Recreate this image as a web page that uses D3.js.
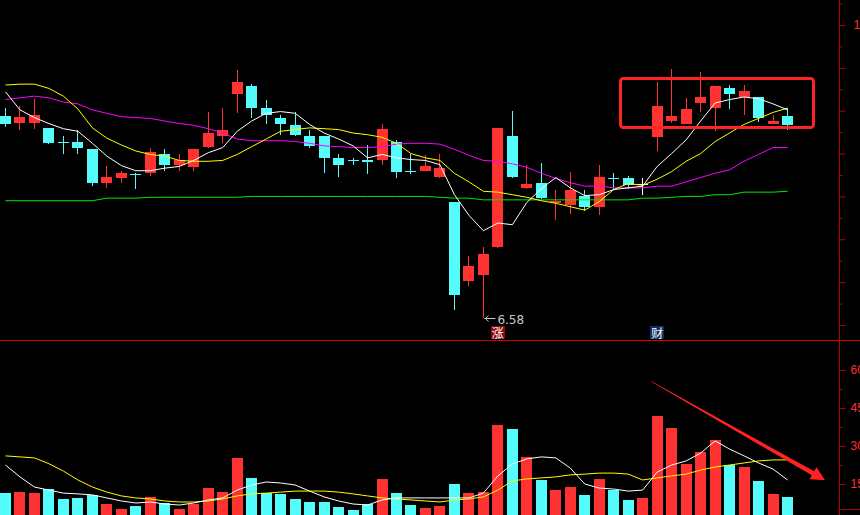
<!DOCTYPE html>
<html><head><meta charset="utf-8">
<script src="https://cdn.jsdelivr.net/npm/d3@7/dist/d3.min.js"></script>
<style>html,body{margin:0;padding:0;background:#000;overflow:hidden}</style>
</head><body>
<script>
// ---------- data ----------
const opens  = [8.94,8.86,8.86,8.80,8.64,8.64,8.55,8.16,8.21,8.26, 8.27,8.50,8.37,8.34,8.58,8.71,9.20,9.29,9.03,8.92,
                8.83,8.71,8.71,8.45,8.42,8.43,8.43,8.64,8.30,8.30, 8.23,7.93,7.01,7.08,7.41,8.70,8.10,8.16,7.92,7.90,
                8.01,7.88,8.22,8.21,8.15,8.69,8.88,8.85,9.09,9.03, 9.27,9.16,9.16,8.84,8.94];
const highs  = [9.03,9.05,9.14,8.80,8.71,8.77,8.55,8.36,8.30,8.27, 8.57,8.55,8.50,8.55,8.99,9.03,9.47,9.31,9.13,8.95,
                8.99,8.78,8.71,8.50,8.45,8.60,8.85,8.66,8.49,8.48, 8.50,7.93,7.30,7.41,8.80,9.00,8.37,8.39,8.08,8.29,
                8.08,8.37,8.27,8.24,8.21,9.33,9.49,9.15,9.45,9.29, 9.30,9.30,9.16,8.95,9.03];
const lows   = [8.81,8.78,8.79,8.61,8.50,8.49,8.12,8.10,8.16,8.09, 8.24,8.30,8.30,8.30,8.57,8.62,8.97,8.91,8.85,8.72,
                8.70,8.56,8.27,8.23,8.37,8.26,8.37,8.21,8.26,8.30, 8.22,6.67,6.95,6.58,7.40,8.22,8.09,7.97,7.73,7.79,
                7.83,7.78,8.08,8.09,8.02,8.53,8.86,8.85,8.98,8.76, 9.02,8.95,8.87,8.84,8.78];
const closes = [8.84,8.93,8.95,8.62,8.63,8.57,8.16,8.23,8.27,8.25, 8.52,8.37,8.43,8.55,8.74,8.78,9.33,9.03,8.95,8.85,
                8.72,8.59,8.45,8.37,8.41,8.40,8.79,8.29,8.29,8.35, 8.33,6.85,7.19,7.33,8.80,8.23,8.14,7.98,7.95,8.08,
                7.88,8.23,8.21,8.13,8.15,9.06,8.94,9.02,9.16,9.29, 9.19,9.23,8.91,8.88,8.83];
const ma5    = [9.22,9.01,8.92,8.85,8.79,8.76,8.62,8.47,8.36,8.30, 8.30,8.33,8.35,8.42,8.51,8.57,8.76,8.88,8.97,8.99,
                8.97,8.84,8.74,8.67,8.59,8.45,8.49,8.45,8.43,8.42, 8.37,8.02,7.78,7.60,7.69,7.67,7.93,8.09,8.22,8.10,
                8.01,8.02,8.08,8.10,8.12,8.35,8.50,8.66,8.88,9.09, 9.13,9.16,9.14,9.08,9.01];
const ma10   = [9.30,9.31,9.31,9.26,9.17,9.02,8.80,8.68,8.60,8.53, 8.49,8.47,8.42,8.41,8.41,8.42,8.49,8.58,8.67,8.76,
                8.78,8.80,8.79,8.78,8.74,8.72,8.69,8.62,8.50,8.45, 8.42,8.27,8.17,8.06,8.05,8.02,7.99,7.95,7.92,7.88,
                7.84,7.94,8.08,8.15,8.13,8.20,8.29,8.41,8.50,8.64, 8.74,8.84,8.91,8.98,9.03];
const ma20   = [9.13,9.15,9.17,9.15,9.10,9.08,9.01,8.97,8.93,8.92, 8.91,8.88,8.85,8.83,8.79,8.74,8.67,8.65,8.65,8.65,
                8.64,8.62,8.59,8.58,8.57,8.57,8.58,8.61,8.62,8.62, 8.61,8.55,8.48,8.42,8.41,8.38,8.34,8.27,8.21,8.16,
                8.12,8.12,8.10,8.10,8.10,8.12,8.12,8.17,8.22,8.27, 8.31,8.41,8.49,8.57,8.57];
const ma60   = [7.95,7.95,7.95,7.95,7.95,7.95,7.95,7.98,7.98,7.98, 7.99,7.99,7.99,7.99,7.99,7.99,7.99,8.00,8.00,8.00,
                8.00,8.00,8.00,8.00,8.00,8.00,8.00,8.00,8.00,8.00, 7.99,7.98,7.98,7.96,7.96,7.96,7.96,7.96,7.96,7.96,
                7.96,7.96,7.96,7.96,7.98,7.98,7.99,8.00,8.00,8.02, 8.02,8.05,8.05,8.05,8.06];
const volume = [11.4,11.8,11.4,13.0,9.1,9.5,10.7,7.1,5.1,6.3, 9.9,7.5,5.1,7.1,13.4,11.8,25.3,17.4,11.4,11.1,
                9.1,7.9,7.9,5.9,4.7,7.1,17.0,11.4,6.7,5.5, 6.3,15.0,11.4,11.8,38.3,36.7,25.7,16.6,12.6,13.8,
                10.7,17.0,12.6,8.7,9.5,41.8,37.1,22.9,27.6,32.4, 22.5,21.7,16.2,11.1,9.9];
const volMA5 = [22.5,17.8,13.8,12.6,11.4,11.1,10.7,9.5,8.3,7.5, 7.9,7.1,6.7,7.5,8.7,9.5,12.6,14.6,15.8,15.4,
                14.6,12.2,9.9,8.3,7.1,6.7,8.7,9.5,9.5,9.5, 9.5,9.5,9.5,11.4,18.2,22.9,24.9,25.7,25.3,21.3,
                15.0,13.4,13.0,12.2,12.6,19.7,22.5,24.1,27.2,32.0, 28.8,26.1,23.3,20.9,16.6];
const volMA10= [26.1,25.7,25.3,23.0,20.1,16.6,13.8,11.8,10.3,9.5, 9.1,8.3,7.9,7.9,8.3,9.1,10.3,11.1,11.4,11.8,
                12.2,12.2,12.2,11.8,11.1,10.3,9.5,9.1,8.7,8.3, 7.9,8.7,9.1,9.9,12.6,16.2,17.0,17.4,17.8,18.6,
                18.9,19.3,19.3,18.9,16.6,17.4,18.2,18.9,20.5,21.7, 22.5,23.3,24.1,24.5,24.5];
const priceMajorTicks = [6.5,7.0,7.5,8.0,8.5,9.0,9.5,10.0];
const priceMinorTicks = [6.75,7.25,7.75,8.25,8.75,9.25,9.75,10.25];
const priceLabelTicks = [10.0];
const volMajorTicks = [15,30,45,60];
const volMinorTicks = [22.5,37.5,52.5];
const lowMarker = {index: 33, label: "6.58"};
const eventMarkers = [{index: 34, text: "涨", bg: "#8a0a0a"}, {index: 45, text: "财", bg: "#0e2f5e"}];
const boxRange = {fromIndex: 42.45, toIndex: 55.75, high: 9.385, low: 8.815};
const arrowFrom = {index: 44.6, vol: 55.5}, arrowTo = {index: 56.6, vol: 16.5};

// ---------- setup ----------
const W = 860, H = 515, AXIS_X = 839;
const RED = "#ff3232", CYAN = "#54fcfc";
const svg = d3.select("body").append("svg").attr("width", W).attr("height", H)
  .style("background", "#000").style("display", "block");
const defs = svg.append("defs");
defs.append("clipPath").attr("id", "cp").append("rect").attr("x", 0).attr("y", 0).attr("width", AXIS_X).attr("height", 340);
defs.append("clipPath").attr("id", "cv").append("rect").attr("x", 0).attr("y", 341).attr("width", AXIS_X).attr("height", H - 341);

const idx = opens.map((d, i) => i);
const x = d3.scaleLinear().domain([0, 54]).range([5.5, 787.5]);
const y = d3.scaleLinear().domain([6.5, 10]).range([325, 25]);
const yv = d3.scaleLinear().domain([0, 60]).range([522, 370]);
const left = i => Math.round(x(i) - 5.5);
const colorOf = i => closes[i] > opens[i] ? RED : (closes[i] < opens[i] ? CYAN : "#ffffff");

// ---------- price pane ----------
const gp = svg.append("g").attr("clip-path", "url(#cp)").attr("shape-rendering", "crispEdges");
const cg = gp.selectAll("g.c").data(idx).join("g").attr("class", "c");
cg.append("rect")
  .attr("x", i => left(i) + 5).attr("width", 1)
  .attr("y", i => Math.round(y(highs[i])))
  .attr("height", i => Math.max(1, Math.round(y(lows[i])) - Math.round(y(highs[i]))))
  .attr("fill", colorOf);
cg.append("rect")
  .attr("x", left).attr("width", 11)
  .attr("y", i => Math.round(y(Math.max(opens[i], closes[i]))))
  .attr("height", i => Math.max(1, Math.round(y(Math.min(opens[i], closes[i]))) - Math.round(y(Math.max(opens[i], closes[i])))))
  .attr("fill", colorOf);

const gpl = svg.append("g").attr("clip-path", "url(#cp)");
const line = d3.line().x((d, i) => x(i)).y(d => y(d));
[[ma60, "#00e800"], [ma20, "#ff00ff"], [ma10, "#ffff00"], [ma5, "#ffffff"]].forEach(([s, c]) => {
  gpl.append("path").attr("d", line(s)).attr("fill", "none").attr("stroke", c).attr("stroke-width", 1);
});

// red highlight box
const bx0 = Math.round(x(boxRange.fromIndex)), bx1 = Math.round(x(boxRange.toIndex));
const by0 = Math.round(y(boxRange.high)), by1 = Math.round(y(boxRange.low));
svg.append("rect").attr("x", bx0 + 0.5).attr("y", by0 + 0.5).attr("width", bx1 - bx0).attr("height", by1 - by0)
  .attr("rx", 3).attr("fill", "none").attr("stroke", "#ff2424").attr("stroke-width", 3);

// low label
const lx = x(lowMarker.index) + 1, ly = Math.round(y(lows[lowMarker.index])) + 0.5;
const lg = svg.append("g").attr("stroke", "#c8c8c8").attr("stroke-width", 1).attr("fill", "none");
lg.append("line").attr("x1", lx).attr("x2", lx + 11).attr("y1", ly).attr("y2", ly);
lg.append("path").attr("d", `M${lx + 4},${ly - 3} L${lx + 1},${ly} L${lx + 4},${ly + 3}`);
svg.append("text").attr("x", lx + 13).attr("y", ly + 5).text(lowMarker.label)
  .attr("fill", "#c8c8c8").attr("font-family", "DejaVu Sans, sans-serif").attr("font-size", 12);

// event markers
eventMarkers.forEach(m => {
  const cx = x(m.index);
  svg.append("rect").attr("x", Math.round(cx - 7)).attr("y", 326).attr("width", 14).attr("height", 13).attr("fill", m.bg);
  svg.append("text").attr("x", cx).attr("y", 337.5).attr("text-anchor", "middle").text(m.text)
    .attr("fill", "#ffffff").attr("font-family", "Noto Sans CJK SC, sans-serif").attr("font-size", 12);
});

// divider
svg.append("line").attr("x1", 0).attr("x2", W).attr("y1", 340.5).attr("y2", 340.5).attr("stroke", "#d40000");

// ---------- volume pane ----------
const gv = svg.append("g").attr("clip-path", "url(#cv)").attr("shape-rendering", "crispEdges");
gv.selectAll("rect.v").data(idx).join("rect").attr("class", "v")
  .attr("x", left).attr("width", 11)
  .attr("y", i => Math.round(yv(volume[i])))
  .attr("height", i => yv(0) - Math.round(yv(volume[i])))
  .attr("fill", i => closes[i] >= opens[i] ? RED : CYAN);
const vline = d3.line().x((d, i) => x(i)).y(d => yv(d));
const gvl = svg.append("g").attr("clip-path", "url(#cv)");
[[volMA10, "#ffff00"], [volMA5, "#ffffff"]].forEach(([s, c]) => {
  gvl.append("path").attr("d", vline(s)).attr("fill", "none").attr("stroke", c).attr("stroke-width", 1);
});

// tapered red arrow
(function () {
  const p0 = [x(arrowFrom.index), yv(arrowFrom.vol)], tip = [x(arrowTo.index), yv(arrowTo.vol)];
  const dx = tip[0] - p0[0], dy = tip[1] - p0[1], L = Math.hypot(dx, dy);
  const u = [dx / L, dy / L], n = [-u[1], u[0]];
  const headLen = 14, headW = 7;
  const p1 = [tip[0] - u[0] * headLen, tip[1] - u[1] * headLen];
  const w0 = 0.3, w1 = 2.3;
  const pts = [
    [p0[0] + n[0] * w0, p0[1] + n[1] * w0],
    [p1[0] + n[0] * w1, p1[1] + n[1] * w1],
    [p1[0] + n[0] * headW, p1[1] + n[1] * headW],
    tip,
    [p1[0] - n[0] * headW, p1[1] - n[1] * headW],
    [p1[0] - n[0] * w1, p1[1] - n[1] * w1],
    [p0[0] - n[0] * w0, p0[1] - n[1] * w0]
  ];
  svg.append("path").attr("d", "M" + pts.map(p => p.join(",")).join("L") + "Z").attr("fill", "#ff2222");
})();

// ---------- right axis ----------
const AX = "#b40000", LBL = "#ff3030";
svg.append("line").attr("x1", AXIS_X + 0.5).attr("x2", AXIS_X + 0.5).attr("y1", 0).attr("y2", H).attr("stroke", AX);
function styleAxis(g) {
  g.select(".domain").remove();
  g.selectAll(".tick line").attr("stroke", AX);
  g.selectAll(".tick text").attr("fill", LBL).attr("font-family", "Liberation Sans, Arial, sans-serif").attr("font-size", 12);
}
svg.append("g").attr("transform", `translate(${AXIS_X + 0.5},0)`)
  .call(d3.axisRight(y).tickValues(priceMinorTicks).tickSize(3).tickFormat("")).call(styleAxis);
svg.append("g").attr("transform", `translate(${AXIS_X + 0.5},0)`)
  .call(d3.axisRight(y).tickValues(priceMajorTicks).tickSize(6).tickFormat("")).call(styleAxis);
svg.append("g").attr("transform", `translate(${AXIS_X + 0.5},0)`)
  .call(d3.axisRight(y).tickValues(priceLabelTicks).tickSize(6).tickPadding(8).tickFormat(d3.format(".2f"))).call(styleAxis);
svg.append("g").attr("transform", `translate(${AXIS_X + 0.5},0)`)
  .call(d3.axisRight(yv).tickValues(volMinorTicks).tickSize(3).tickFormat("")).call(styleAxis);
svg.append("g").attr("transform", `translate(${AXIS_X + 0.5},0)`)
  .call(d3.axisRight(yv).tickValues(volMajorTicks).tickSize(6).tickPadding(5).tickFormat(d3.format("d"))).call(styleAxis);

// bottom-right corner
svg.append("line").attr("x1", AXIS_X).attr("x2", W).attr("y1", 509.5).attr("y2", 509.5).attr("stroke", AX);
svg.append("text").attr("x", 842).attr("y", 524).text("VOL").attr("fill", LBL)
  .attr("font-family", "Liberation Sans, Arial, sans-serif").attr("font-size", 12);
</script>
</body></html>
